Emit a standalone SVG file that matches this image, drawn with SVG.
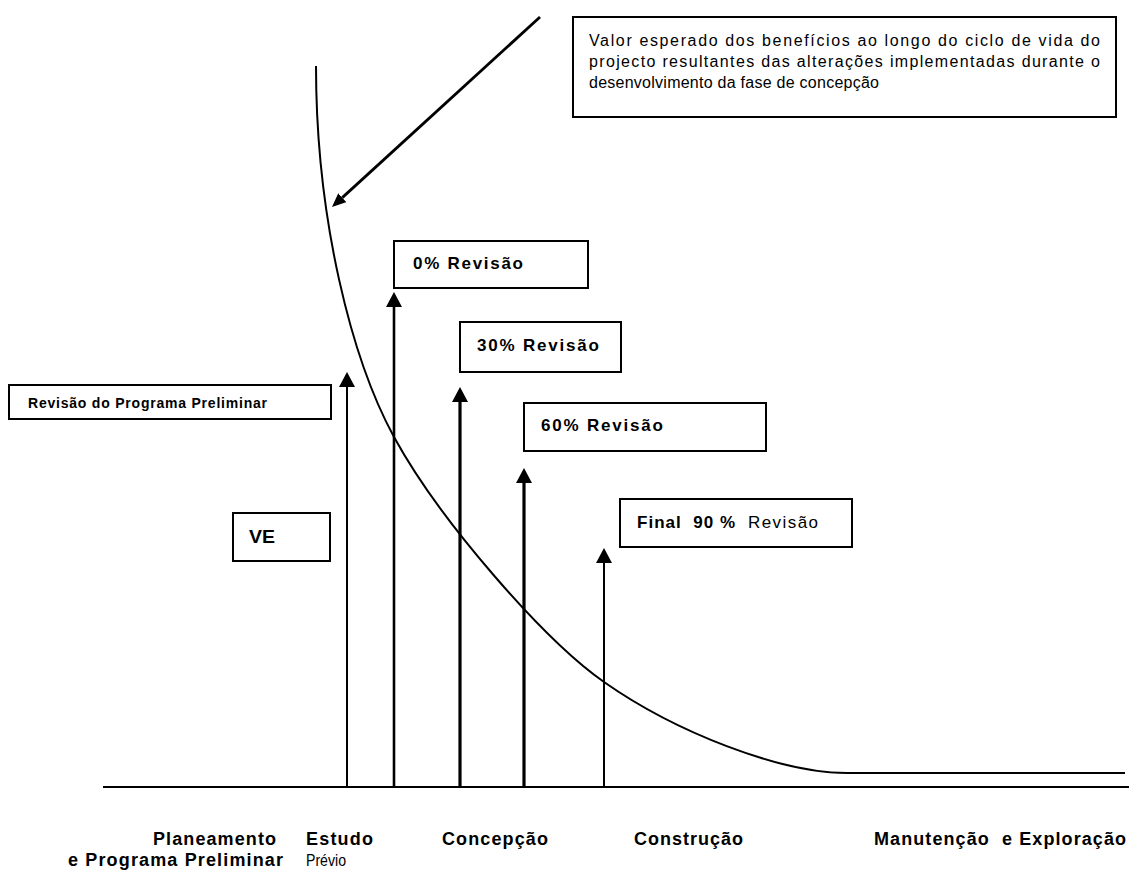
<svg xmlns="http://www.w3.org/2000/svg" width="1129" height="871" viewBox="0 0 1129 871">
  <style>
    .box { fill: #ffffff; stroke: #000000; stroke-width: 2; }
    .lbl { font-family: "Liberation Sans", Arial, sans-serif; fill: #000000; }
    .b { font-weight: bold; }
    .stem { stroke: #000000; fill: none; }
    .curve { stroke: #000000; stroke-width: 2; fill: none; }
  </style>
  <defs>
    <marker id="head" viewBox="0 -8 15 16" refX="0" refY="0" markerWidth="15" markerHeight="16" markerUnits="userSpaceOnUse" orient="auto">
      <path d="M0,-8 L15,0 L0,8 Z" fill="#000000"/>
    </marker>
    <marker id="headSmall" viewBox="0 -6 14 12" refX="0" refY="0" markerWidth="14" markerHeight="12" markerUnits="userSpaceOnUse" orient="auto">
      <path d="M0,-6 L14,0 L0,6 Z" fill="#000000"/>
    </marker>
  </defs>

  <rect width="1129" height="871" fill="#ffffff"/>

  <!-- axis and value curve -->
  <g id="chart">
    <line x1="103" y1="787" x2="1129" y2="787" stroke="#000000" stroke-width="2"/>
    <path class="curve" d="M316,66 C316,220 352,360 394,437 C440,521 544,640 604,682 C676,732.4 780,773 847,773 L1125,773"/>
  </g>

  <!-- connectors -->
  <g id="connectors">
    <line class="stem" x1="540" y1="17" x2="342.3" y2="197.6" stroke-width="2.8" marker-end="url(#headSmall)"/>
    <line class="stem" x1="347" y1="787" x2="347" y2="387" stroke-width="2" marker-end="url(#head)"/>
    <line class="stem" x1="394" y1="787" x2="394" y2="307" stroke-width="2.6" marker-end="url(#head)"/>
    <line class="stem" x1="460" y1="787" x2="460" y2="402" stroke-width="3.2" marker-end="url(#head)"/>
    <line class="stem" x1="524" y1="787" x2="524" y2="483" stroke-width="3.2" marker-end="url(#head)"/>
    <line class="stem" x1="604" y1="787" x2="604" y2="563" stroke-width="2" marker-end="url(#head)"/>
  </g>

  <g id="node-benefits">
    <rect class="box" x="573" y="17" width="543" height="100"/>
    <text class="lbl" font-size="16" x="589" y="46" textLength="511" lengthAdjust="spacing">Valor esperado dos benefícios ao longo do ciclo de vida do</text>
    <text class="lbl" font-size="16" x="589" y="67" textLength="511" lengthAdjust="spacing">projecto resultantes das alterações implementadas durante  o</text>
    <text class="lbl" font-size="16" x="589" y="88" textLength="290" lengthAdjust="spacing">desenvolvimento da fase de concepção</text>
  </g>

  <g id="node-prelim">
    <rect class="box" x="9" y="385" width="322" height="34"/>
    <text class="lbl b" font-size="14" x="28" y="408" textLength="239" lengthAdjust="spacing">Revisão do Programa Preliminar</text>
  </g>

  <g id="node-ve">
    <rect class="box" x="233" y="513" width="97" height="48"/>
    <text class="lbl b" font-size="19" x="249" y="543" textLength="26" lengthAdjust="spacingAndGlyphs">VE</text>
  </g>

  <g id="node-rev0">
    <rect class="box" x="394" y="241" width="194" height="47"/>
    <text class="lbl b" font-size="17" x="413" y="269" textLength="110" lengthAdjust="spacing">0% Revisão</text>
  </g>

  <g id="node-rev30">
    <rect class="box" x="460" y="322" width="161" height="50"/>
    <text class="lbl b" font-size="17" x="477" y="351" textLength="122" lengthAdjust="spacing">30% Revisão</text>
  </g>

  <g id="node-rev60">
    <rect class="box" x="524" y="403" width="242" height="48"/>
    <text class="lbl b" font-size="17" x="541" y="431" textLength="122" lengthAdjust="spacing">60% Revisão</text>
  </g>

  <g id="node-rev90">
    <rect class="box" x="620" y="499" width="232" height="48"/>
    <text class="lbl b" font-size="17" x="637" y="528" textLength="98" lengthAdjust="spacing" xml:space="preserve">Final  90 %</text>
    <text class="lbl" font-size="17" x="748" y="528" textLength="70" lengthAdjust="spacing">Revisão</text>
  </g>

  <!-- phase labels under the axis -->
  <g id="phases">
    <text class="lbl b" font-size="18" x="153" y="845" textLength="123" lengthAdjust="spacing">Planeamento</text>
    <text class="lbl b" font-size="18" x="68" y="866" textLength="215" lengthAdjust="spacing">e Programa Preliminar</text>
    <text class="lbl b" font-size="18" x="306" y="845" textLength="67" lengthAdjust="spacing">Estudo</text>
    <text class="lbl" font-size="16" x="306" y="866" textLength="40" lengthAdjust="spacingAndGlyphs">Prévio</text>
    <text class="lbl b" font-size="18" x="442" y="845" textLength="106" lengthAdjust="spacing">Concepção</text>
    <text class="lbl b" font-size="18" x="634" y="845" textLength="109" lengthAdjust="spacing">Construção</text>
    <text class="lbl b" font-size="18" x="874" y="845" textLength="252" lengthAdjust="spacing" xml:space="preserve">Manutenção  e Exploração</text>
  </g>
</svg>
